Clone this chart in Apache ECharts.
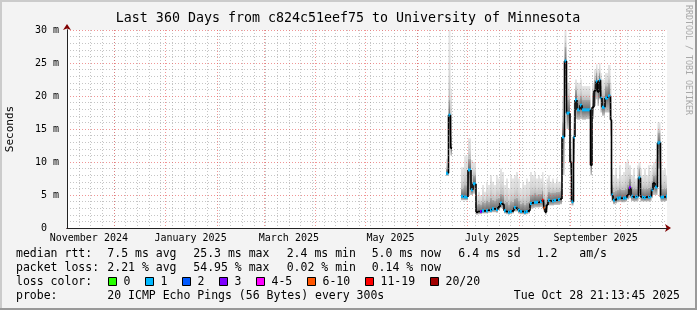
<!DOCTYPE html>
<html><head><meta charset="utf-8">
<script src="https://cdn.jsdelivr.net/npm/echarts@6/dist/echarts.min.js"></script>
<style>html,body{margin:0;padding:0;background:#f3f3f3;}#c{width:697px;height:310px;}</style>
</head><body><div id="c"></div>
<script>
// ---------------- data ----------------
const titleText = 'Last 360 Days from c824c51eef75 to University of Minnesota';
const yAxisTitle = 'Seconds';
const sideText = 'RRDTOOL / TOBI OETIKER';
const SPAN_DAYS = 360;                       // x axis: days since Nov 2 2024 21:13:45
const START = Date.UTC(2024, 10, 2, 21, 13, 45);
const yTickLabels = ['0  ', '5 m', '10 m', '15 m', '20 m', '25 m', '30 m'];
const xTickLabels = ['November 2024', 'January 2025', 'March 2025', 'May 2025', 'July 2025', 'September 2025'];
const xTickLabelDates = [[2024,10,16],[2025,0,16],[2025,2,16],[2025,4,16],[2025,6,16],[2025,8,16]];

const bucketStartDay = [227.4,228.9,230.1,231.0,236.4,238.2,240.6,242.4,243.6,
  245.4,246.6,247.8,249.0,250.2,251.4,252.6,253.8,255.0,256.2,257.4,258.6,259.8,261.0,262.2,263.4,264.6,265.8,267.0,268.2,269.4,270.6,271.8,273.0,274.2,275.4,276.6,277.8,279.0,280.2,281.4,282.6,283.8,285.0,285.9,286.8,287.7,288.6,289.8,291.0,292.2,293.4,294.6,295.8,
  297.0,298.5,299.7,301.8,302.7,303.9,304.8,306.0,307.8,309.0,311.4,314.1,315.0,316.2,317.4,318.3,319.2,320.1,321.0,322.8,324.6,326.1,
  326.7,327.6,328.8,330.0,331.2,332.4,333.6,334.8,336.0,337.2,338.4,339.6,340.8,342.0,342.9,344.1,345.0,346.2,347.4,348.6,349.8,350.7,351.6,352.8,354.3,356.1,357.0,358.2,359.4];
const medianMs = [8.3,17.1,12.1,null,4.8,4.7,8.8,5.8,6.7,
  2.4,2.5,2.5,2.6,2.6,2.6,2.7,2.7,2.9,2.9,2.8,3.2,3.8,3.6,2.6,2.5,2.4,2.5,2.6,3.1,3.0,2.7,2.5,2.5,2.4,2.5,2.6,3.7,3.8,3.9,3.9,3.9,4.0,4.2,3.0,2.4,3.5,4.2,4.1,4.1,4.2,4.2,4.3,4.4,
  13.8,25.3,17.4,10.0,4.0,13.8,19.4,17.9,18.6,17.9,17.9,9.5,18.3,20.8,22.2,20.6,22.4,19.7,18.3,19.7,20.0,16.4,
  5.0,4.2,4.3,4.5,4.6,4.5,4.5,4.6,5.0,6.1,4.8,4.7,4.7,4.8,7.6,4.7,4.7,4.6,4.7,4.7,4.8,5.8,6.8,6.2,12.9,4.7,4.7,4.7,4.8];
const smokeMin = [7.9,14,11,null,4.2,4.2,5.0,5.0,5.2,
  2.0,2.1,2.1,2.2,2.2,2.2,2.3,2.3,2.4,2.4,2.3,2.7,3.0,2.9,2.2,2.1,2.0,2.1,2.2,2.5,2.5,2.2,2.1,2.1,2.0,2.1,2.2,2.9,3.0,3.1,3.1,3.1,3.2,3.4,2.5,2.0,2.8,3.4,3.4,3.4,3.5,3.5,3.5,3.6,
  8,20,15,8,3.4,10,16.5,16.4,16.5,16.4,16.5,8,16.5,18.5,19.5,18.5,19.5,17.5,17,17.5,17.5,14,
  4.0,3.6,3.7,3.9,4.0,3.9,3.9,4.0,4.3,4.5,4.1,4.0,4.0,4.1,5.5,4.0,4.0,4.0,4.0,4.0,4.1,4.5,5.0,5.0,9,4.0,4.0,4.0,4.1];
const smokeCore = [9.0,19.5,14,null,6.0,6.5,10.5,7.0,8.0,
  3.5,3.7,3.6,4.0,3.8,4.2,4.0,4.6,4.3,4.2,4.5,4.6,5.2,5.0,3.9,4.0,3.6,4.0,4.0,4.5,4.6,4.1,3.7,3.9,3.6,3.9,4.0,5.0,5.1,5.3,5.1,5.2,5.2,5.6,4.5,3.8,4.8,5.5,5.3,5.4,5.4,5.5,5.5,5.7,
  16,27.5,19.5,12,5.5,16,21,19.5,20,19.5,19.5,12,20.5,22.5,23.5,22.5,23.5,21.5,20,21.5,22,19,
  6.5,5.5,5.6,5.8,6.0,5.8,5.8,6.0,6.5,7.5,6.2,6.0,6.0,6.2,9.0,6.0,6.0,5.9,6.0,6.1,6.2,7.2,8.0,8.0,14.5,6.5,6.0,6.0,6.1];
const smokeMax = [10.5,30,21,null,9.2,11.0,13.6,10.3,10.0,
  5.0,5.5,5.0,6.5,5.5,7.0,6.5,8.0,7.0,6.5,8.0,7.5,9.0,8.5,6.5,7.5,6.0,8.0,7.5,8.0,8.5,7.5,6.0,7.0,6.5,7.5,7.0,8.5,8.0,8.5,7.5,8.0,7.5,8.5,7.0,6.5,7.5,8.0,7.0,7.5,6.8,7.5,7.0,7.0,
  20,30,22,15,8,19,22.5,22,22.5,21.5,21.5,15,22,24,24.8,24,25,23.5,22.5,23.5,24.7,22,
  9,8.0,9.0,7.5,9.5,8.0,8.5,10.0,10.3,9.5,8.0,9.0,7.5,9.5,10.0,9.0,8.0,9.0,8.0,9.5,8.5,9.5,10.0,10.5,16,10.0,8.8,9.0,8.0];
const lossPings = [1,1,null,null,1,1,1,1,1,
  null,null,3,1,null,1,null,1,1,null,1,null,1,null,1,null,1,1,null,1,null,1,1,null,1,1,null,1,null,1,1,null,1,11,6,null,null,1,null,1,1,null,1,null,
  1,1,1,null,1,1,1,1,1,1,1,null,null,null,1,null,1,1,1,1,1,null,
  1,1,null,1,1,null,1,1,null,3,1,null,1,1,1,null,1,1,null,1,1,1,null,1,1,1,1,null,1];

const lossLabels = ['0', '1', '2', '3', '4-5', '6-10', '11-19', '20/20'];
const lossUpper  = [0, 1, 2, 3, 5, 10, 19, 20];
const lossColors = ['#26ff00', '#00b8ff', '#0059ff', '#7e00ff', '#ff00ff', '#ff5500', '#ff0000', '#a10000'];

const statRows = [
  ['median rtt:', '7.5 ms avg', '25.3 ms max', '2.4 ms min', '5.0 ms now', '6.4 ms sd', '1.2', 'am/s'],
  ['packet loss:', '2.21 % avg', '54.95 % max', '0.02 % min', '0.14 % now']
];
const probeRow = ['probe:', '20 ICMP Echo Pings (56 Bytes) every 300s', 'Tue Oct 28 21:13:45 2025'];
const lossColorTitle = 'loss color:';

// ---------------- helpers ----------------
const DAY = 86400000;
const toDay = (y, m, d) => (Date.UTC(y, m, d) - START) / DAY;
const monthGridDays = [];
for (let k = 0; k < 13; k++) { const d = toDay(2024, 10 + k, 1); if (d > 0 && d < SPAN_DAYS) monthGridDays.push(d); }
const weekGridDays = [];
for (let d = toDay(2024, 10, 3); d < SPAN_DAYS; d += 7) if (d > 0) weekGridDays.push(d);
const xTickLabelDays = xTickLabelDates.map(a => toDay(a[0], a[1], a[2]));
function lossColor(p) { for (let k = 0; k < lossUpper.length; k++) if (p <= lossUpper[k]) return lossColors[k]; return lossColors[lossColors.length - 1]; }
function bucketEnd(i) { return i + 1 < bucketStartDay.length ? bucketStartDay[i + 1] : SPAN_DAYS; }

const MONO = '"DejaVu Sans Mono", "Liberation Mono", monospace';
const itemIdx = bucketStartDay.map((d, i) => [d, bucketEnd(i), smokeMin[i] == null ? 0 : smokeMin[i], smokeMax[i] == null ? 0 : smokeMax[i], i]);

function smokeItem(params, api) {
  const i = api.value(4);
  if (medianMs[i] == null) return null;
  const s = bucketStartDay[i], e = bucketEnd(i);
  const a = api.coord([s, smokeMax[i]]);
  const b = api.coord([e, smokeMin[i]]);
  const c = api.coord([s, smokeCore[i]]);
  const m = api.coord([s, medianMs[i]]);
  const x = a[0], w = b[0] - a[0];
  const coreH = b[1] - c[1];
  let mo = coreH > 0 ? (m[1] - c[1]) / coreH : 0.5;
  mo = Math.min(0.98, Math.max(0.02, mo));
  return { type: 'group', children: [
    { type: 'rect', shape: { x: x, y: a[1], width: w, height: c[1] - a[1] },
      style: { fill: new echarts.graphic.LinearGradient(0, 0, 0, 1, [{ offset: 0, color: '#e6e6e6' }, { offset: 0.6, color: '#d8d8d8' }, { offset: 1, color: '#bdbdbd' }]) } },
    { type: 'rect', shape: { x: x, y: c[1], width: w, height: coreH },
      style: { fill: new echarts.graphic.LinearGradient(0, 0, 0, 1, [{ offset: 0, color: '#acacac' }, { offset: mo, color: '#6a6a6a' }, { offset: 1, color: '#c6c6c6' }]) } }
  ] };
}

function medianItem(params, api) {
  const i = api.value(4);
  const med = medianMs[i];
  if (med == null) return null;
  const s = bucketStartDay[i], e = bucketEnd(i);
  const p = api.coord([s, med]), q = api.coord([e, med]);
  const ch = [{ type: 'line', shape: { x1: p[0], y1: p[1], x2: q[0], y2: q[1] }, style: { stroke: '#000', lineWidth: 1.6 } }];
  if (i > 0 && medianMs[i - 1] != null) {
    const r = api.coord([s, medianMs[i - 1]]);
    ch.push({ type: 'line', shape: { x1: p[0], y1: r[1], x2: p[0], y2: p[1] }, style: { stroke: '#000', lineWidth: 1.6 } });
  }
  if (lossPings[i] != null) {
    ch.push({ type: 'line', shape: { x1: p[0], y1: p[1], x2: q[0], y2: q[1] }, style: { stroke: lossColor(lossPings[i]), lineWidth: 3 } });
  }
  return { type: 'group', children: ch };
}

// ---------------- graphics (frame + legend texts) ----------------
const g = [];
g.push({ type: 'rect', shape: { x: 0, y: 0, width: 697, height: 2 }, style: { fill: '#cbcbcb' }, silent: true });
g.push({ type: 'rect', shape: { x: 0, y: 0, width: 2, height: 310 }, style: { fill: '#cbcbcb' }, silent: true });
g.push({ type: 'rect', shape: { x: 0, y: 308, width: 697, height: 2 }, style: { fill: '#999999' }, silent: true });
g.push({ type: 'rect', shape: { x: 695, y: 0, width: 2, height: 310 }, style: { fill: '#999999' }, silent: true });
g.push({ type: 'text', x: 348, y: 19, style: { text: titleText, font: '13.3px ' + MONO, fill: '#000', align: 'center', verticalAlign: 'middle' } });
g.push({ type: 'text', x: 10, y: 129, rotation: Math.PI / 2, style: { text: yAxisTitle, font: '11px ' + MONO, fill: '#000', align: 'center', verticalAlign: 'middle' } });
g.push({ type: 'text', x: 688, y: 5, rotation: -Math.PI / 2, style: { text: sideText, font: '8.3px ' + MONO, fill: '#a8a8a8', align: 'left', verticalAlign: 'middle' } });
const LF = '11.5px ' + MONO;
const rowY = [254, 268, 282, 296];
const statX = [16, 107.3, 193.3, 286.7, 371.7, 458.3, 536.7, 579.3];
statRows.forEach((row, r) => row.forEach((t, k) => g.push({ type: 'text', x: statX[k], y: rowY[r], style: { text: t, font: LF, fill: '#000', verticalAlign: 'middle' } })));
g.push({ type: 'text', x: 16, y: rowY[2], style: { text: lossColorTitle, font: LF, fill: '#000', verticalAlign: 'middle' } });
const boxX = [108.5, 145.5, 182.5, 219.5, 256.5, 307.5, 365.5, 430.5];
lossLabels.forEach((t, k) => {
  g.push({ type: 'rect', shape: { x: boxX[k], y: 277.5, width: 8, height: 8 }, style: { fill: lossColors[k], stroke: '#000', lineWidth: 1 } });
  g.push({ type: 'text', x: boxX[k] + 15, y: rowY[2], style: { text: t, font: LF, fill: '#000', verticalAlign: 'middle' } });
});
g.push({ type: 'text', x: 16, y: rowY[3], style: { text: probeRow[0], font: LF, fill: '#000', verticalAlign: 'middle' } });
g.push({ type: 'text', x: 107.3, y: rowY[3], style: { text: probeRow[1], font: LF, fill: '#000', verticalAlign: 'middle' } });
g.push({ type: 'text', x: 680, y: rowY[3], style: { text: probeRow[2], font: LF, fill: '#000', align: 'right', verticalAlign: 'middle' } });

const GRID_GRAY = 'rgba(140,140,140,0.5)';
const GRID_RED = 'rgba(230,80,80,0.6)';
const chart = echarts.init(document.getElementById('c'), null, { renderer: 'canvas' });
chart.setOption({
  animation: false,
  backgroundColor: '#f3f3f3',
  graphic: g,
  grid: { left: 67, top: 30, width: 600, height: 198, show: true, backgroundColor: '#ffffff', borderWidth: 0, containLabel: false, outerBoundsMode: 'none' },
  xAxis: [
    { type: 'value', min: 0, max: SPAN_DAYS, z: 0, axisLine: { show: false }, axisLabel: { show: false },
      axisTick: { show: false, customValues: weekGridDays }, splitLine: { show: true, lineStyle: { color: GRID_GRAY, type: [1, 2], width: 1 } } },
    { type: 'value', min: 0, max: SPAN_DAYS, z: 0, axisLine: { show: false }, axisLabel: { show: false },
      axisTick: { show: false, customValues: monthGridDays }, splitLine: { show: true, lineStyle: { color: GRID_RED, type: [1, 2], width: 1 } } },
    { type: 'value', min: 0, max: SPAN_DAYS, z: 3, position: 'bottom',
      axisLine: { show: true, onZero: false, symbol: ['none', 'arrow'], symbolSize: [6, 6], symbolOffset: [0, 4], lineStyle: { color: '#800000', width: 1 } },
      axisTick: { show: false }, axisLabel: { show: false }, splitLine: { show: false } },
    { type: 'value', min: 0, max: SPAN_DAYS, z: 4, position: 'bottom',
      axisLine: { show: true, onZero: false, lineStyle: { color: '#222', width: 1 } },
      axisTick: { show: false, customValues: xTickLabelDays },
      axisLabel: { show: true, customValues: xTickLabelDays, margin: 5, color: '#000', fontFamily: MONO, fontSize: 10,
        formatter: function (v) { let best = 0; xTickLabelDays.forEach((d, k) => { if (Math.abs(d - v) < Math.abs(xTickLabelDays[best] - v)) best = k; }); return xTickLabels[best]; } },
      splitLine: { show: false } }
  ],
  yAxis: [
    { type: 'value', min: 0, max: 30, interval: 5, z: 4, position: 'left',
      axisLine: { show: true, onZero: false, lineStyle: { color: '#222', width: 1 } },
      axisTick: { show: false },
      axisLabel: { margin: 8, color: '#000', fontFamily: MONO, fontSize: 10, formatter: function (v) { return yTickLabels[Math.round(v / 5)]; } },
      splitLine: { show: true, lineStyle: { color: GRID_RED, type: [1, 2], width: 1 } },
      minorTick: { show: false, splitNumber: 5 },
      minorSplitLine: { show: true, lineStyle: { color: GRID_GRAY, type: [1, 2], width: 1 } } },
    { type: 'value', min: 0, max: 30, z: 3, position: 'left', offset: 0,
      axisLine: { show: true, onZero: false, symbol: ['none', 'arrow'], symbolSize: [6, 6], symbolOffset: [0, 6], lineStyle: { color: '#800000', width: 1 } },
      axisTick: { show: false }, axisLabel: { show: false }, splitLine: { show: false } }
  ],
  series: [
    { type: 'custom', xAxisIndex: 3, yAxisIndex: 0, renderItem: smokeItem, data: itemIdx, encode: { x: [0, 1], y: [2, 3] }, clip: true, z: 2, silent: true },
    { type: 'custom', xAxisIndex: 3, yAxisIndex: 0, renderItem: medianItem, data: itemIdx, encode: { x: [0, 1], y: [2, 3] }, clip: true, z: 3, silent: true }
  ]
});
</script>
</body></html>
